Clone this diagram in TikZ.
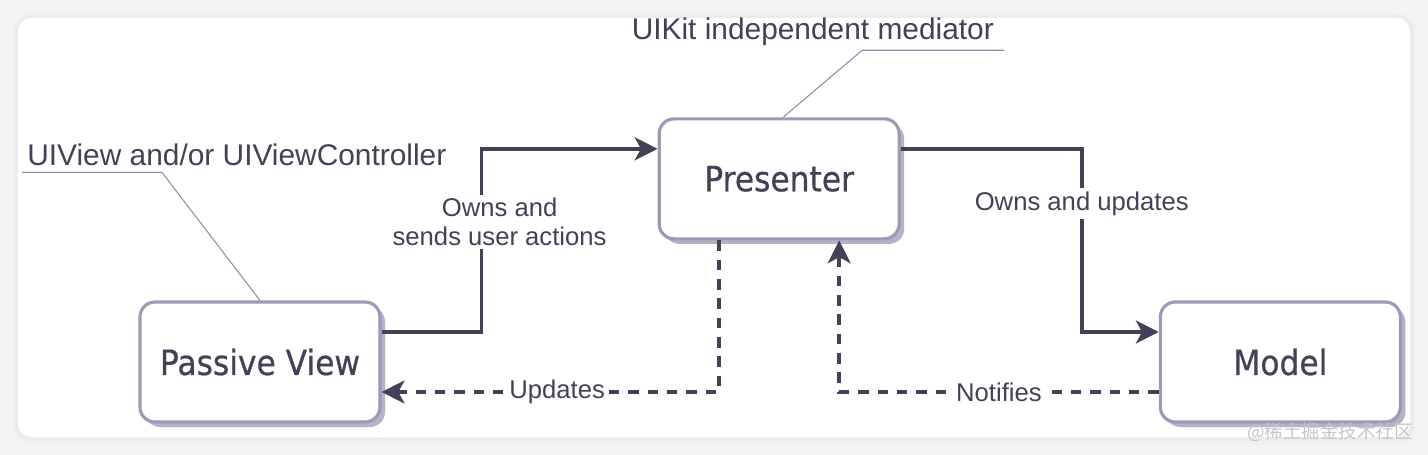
\documentclass[tikz,border=0pt]{standalone}
\usepackage{fontspec}
\setmainfont{Liberation Sans}
\newfontfamily\boxfont[FakeStretch=0.9,FakeBold=0.6]{DejaVu Sans}
\newfontfamily\cjk{Noto Sans CJK SC}
\usetikzlibrary{arrows.meta,positioning,shadows}
\definecolor{pagebg}{HTML}{F4F4F4}
\definecolor{boxline}{HTML}{9C9AB8}
\definecolor{boxshade}{HTML}{B4B2C6}
\definecolor{ink}{HTML}{434158}
\definecolor{noteline}{HTML}{8F8DA8}

\begin{document}
\begin{tikzpicture}[
  mvpbox/.style={draw=boxline,line width=1.8pt,fill=white,rounded corners=0.3cm,
    minimum width=4.8cm,minimum height=2.4cm,text=ink,font=\boxfont\fontsize{19.8}{22}\selectfont,
    drop shadow={shadow xshift=0.1cm,shadow yshift=-0.1cm,fill=boxshade,opacity=1}},
  flow/.style={draw=ink,line width=2.1pt,-{Stealth[length=13pt,width=13pt,inset=3.5pt]}},
  dashline/.style={dash pattern=on 6pt off 5pt},
  lbl/.style={fill=white,text=ink,font=\fontsize{14.6}{16.4}\selectfont,align=center,inner sep=2pt},
  note/.style={text=ink,font=\fontsize{17}{20}\selectfont,inner sep=0pt},
  noteln/.style={draw=noteline,line width=0.6pt}]
  % card
  \useasboundingbox (0,0) rectangle (28.56,-9.1);
  \fill[pagebg] (0,0) rectangle (28.56,-9.1);
  \fill[black!5,rounded corners=0.4cm] (0.24,-0.24) rectangle (28.34,-8.9);
  \fill[black!8,rounded corners=0.32cm] (0.3,-0.3) rectangle (28.28,-8.82);
  \fill[white,rounded corners=0.26cm] (0.36,-0.36) rectangle (28.2,-8.74);

  \node[mvpbox] (passive) at (5.2,-7.24) {Passive View};
  \node[mvpbox,above right=1.2cm and 5.52cm of passive] (presenter) {Presenter};
  \node[mvpbox,below right=1.2cm and 5.16cm of presenter] (model) {Model};

  \draw[flow] ([yshift=6mm]passive.east) -- ++(2,0) |- ([yshift=6mm]presenter.west)
    node[lbl,pos=0.3,xshift=0.36cm] {Owns and\\sends user actions};
  \draw[flow] ([yshift=6mm]presenter.east) -- ++(3.62,0) |- ([yshift=6mm]model.west)
    node[lbl,pos=0.15] {Owns and updates};
  \draw[flow,dashline] ([xshift=-12mm]presenter.south) |- ([yshift=-6mm]passive.east)
    node[lbl,pos=0.74] {Updates};
  \draw[flow,dashline] ([yshift=-6mm]model.west) -| ([xshift=12mm]presenter.south)
    node[lbl,pos=0.25] {Notifies};

  % notes
  \draw[noteln] (passive.north) -- ++(-1.96,2.56) coordinate (uiv) -- ++(-2.8,0) coordinate (uivend);
  \node[note,anchor=base west] (uivnote) at ([shift={(0.1,0.14)}]uivend) {UIView and/or UIViewController};
  \draw[noteln] ([xshift=0.08cm]presenter.north) -- ++(1.58,1.34) coordinate (med) -- ++(2.84,0) coordinate (medend);
  \node[note,anchor=base east] (mednote) at ([shift={(-0.2,0.22)}]medend) {UIKit independent mediator};

  \node[text=gray!45,font=\cjk\fontsize{10.5}{12}\selectfont] (mark) at (26.6,-8.64) {@稀土掘金技术社区};
\end{tikzpicture}
\end{document}
